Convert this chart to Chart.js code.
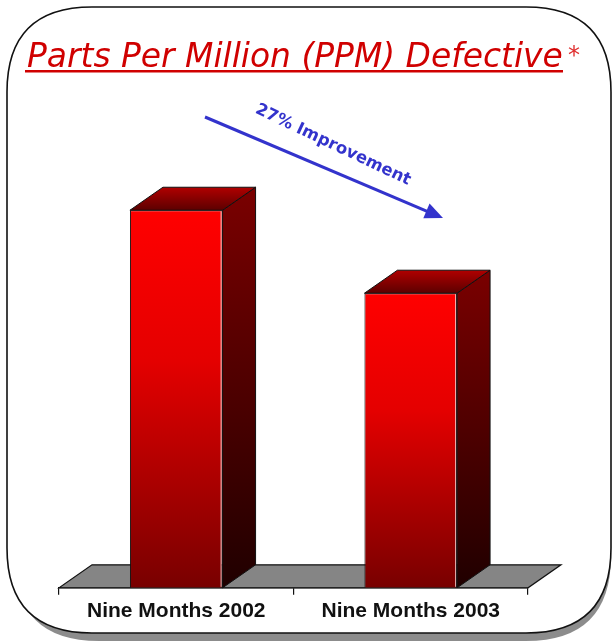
<!DOCTYPE html>
<html>
<head>
<meta charset="utf-8">
<title>Parts Per Million (PPM) Defective</title>
<script src="https://cdn.jsdelivr.net/npm/chart.js@4.4.1/dist/chart.umd.min.js"></script>
<style>
  html, body { margin: 0; padding: 0; background: #fff; }
  canvas { display: block; }
</style>
</head>
<body>
<canvas id="ppmChart" width="616" height="641"></canvas>
<script>
// PPM defective, relative scale (first nine months of each year)
const periods = ['Nine Months 2002', 'Nine Months 2003'];
const ppmValues = [94.2, 73.5];
const titleText = 'Parts Per Million (PPM) Defective';
const arrowNote = '27% Improvement';

// 3D offset for the bar tops, sides and the floor
const DEPTH_X = 33;
const DEPTH_Y = 23;

function roundRect(ctx, x, y, w, h, r) {
    ctx.beginPath();
    ctx.moveTo(x + r, y);
    ctx.lineTo(x + w - r, y);
    ctx.quadraticCurveTo(x + w, y, x + w, y + r);
    ctx.lineTo(x + w, y + h - r);
    ctx.quadraticCurveTo(x + w, y + h, x + w - r, y + h);
    ctx.lineTo(x + r, y + h);
    ctx.quadraticCurveTo(x, y + h, x, y + h - r);
    ctx.lineTo(x, y + r);
    ctx.quadraticCurveTo(x, y, x + r, y);
    ctx.closePath();
}

// rounded frame with a drop shadow behind the whole chart
const framePlugin = {
    id: 'frame',
    beforeDraw(chart) {
        const ctx = chart.ctx;
        ctx.save();
        ctx.fillStyle = '#ffffff';
        ctx.fillRect(0, 0, chart.width, chart.height);
        roundRect(ctx, 14, 14, 597, 627, 85);
        ctx.fillStyle = '#8c8c8c';
        ctx.fill();
        roundRect(ctx, 7, 7, 604, 626, 85);
        ctx.fillStyle = '#ffffff';
        ctx.fill();
        ctx.lineWidth = 1.6;
        ctx.strokeStyle = '#111';
        ctx.stroke();
        ctx.restore();
    }
};

// grey floor under the bars
const floorPlugin = {
    id: 'floor',
    beforeDatasetsDraw(chart) {
        const ctx = chart.ctx;
        const a = chart.chartArea;
        ctx.save();
        ctx.beginPath();
        ctx.moveTo(a.left, a.bottom);
        ctx.lineTo(a.right, a.bottom);
        ctx.lineTo(a.right + DEPTH_X, a.bottom - DEPTH_Y);
        ctx.lineTo(a.left + DEPTH_X, a.bottom - DEPTH_Y);
        ctx.closePath();
        ctx.fillStyle = '#858585';
        ctx.fill();
        ctx.lineWidth = 1.2;
        ctx.strokeStyle = '#111';
        ctx.stroke();
        ctx.restore();
    }
};

// top and side faces of every bar
const bar3dPlugin = {
    id: 'bar3d',
    afterDatasetsDraw(chart) {
        const ctx = chart.ctx;
        chart.getDatasetMeta(0).data.forEach(bar => {
            const p = bar.getProps(['x', 'y', 'base', 'width'], true);
            const l = p.x - p.width / 2;
            const r = p.x + p.width / 2;
            ctx.save();
            ctx.lineWidth = 1;
            ctx.strokeStyle = '#111';

            // side
            const side = ctx.createLinearGradient(0, p.y - DEPTH_Y, 0, p.base);
            side.addColorStop(0, '#7a0000');
            side.addColorStop(0.55, '#4a0000');
            side.addColorStop(1, '#200000');
            ctx.beginPath();
            ctx.moveTo(r, p.y);
            ctx.lineTo(r + DEPTH_X, p.y - DEPTH_Y);
            ctx.lineTo(r + DEPTH_X, p.base - DEPTH_Y);
            ctx.lineTo(r, p.base);
            ctx.closePath();
            ctx.fillStyle = side;
            ctx.fill();
            ctx.stroke();

            // top
            const top = ctx.createLinearGradient(0, p.y - DEPTH_Y, 0, p.y);
            top.addColorStop(0, '#b00000');
            top.addColorStop(1, '#5c0000');
            ctx.beginPath();
            ctx.moveTo(l, p.y);
            ctx.lineTo(l + DEPTH_X, p.y - DEPTH_Y);
            ctx.lineTo(r + DEPTH_X, p.y - DEPTH_Y);
            ctx.lineTo(r, p.y);
            ctx.closePath();
            ctx.fillStyle = top;
            ctx.fill();
            ctx.stroke();

            // light edge on the front face
            ctx.beginPath();
            ctx.moveTo(r - 1.5, p.y + 1);
            ctx.lineTo(r - 1.5, p.base - 1);
            ctx.strokeStyle = 'rgba(255,220,220,0.8)';
            ctx.stroke();
            ctx.restore();
        });
    }
};

// underlined title and the improvement arrow
const notesPlugin = {
    id: 'notes',
    afterDraw(chart) {
        const ctx = chart.ctx;
        ctx.save();

        // title, fitted to its underline
        const tLeft = 27, tRight = 563, tBase = 67;
        ctx.font = 'italic 26px "DejaVu Sans"';
        const size = 26 * (tRight - tLeft) / ctx.measureText(titleText).width;
        ctx.font = 'italic ' + size.toFixed(1) + 'px "DejaVu Sans"';
        ctx.fillStyle = '#d00000';
        ctx.textBaseline = 'alphabetic';
        ctx.fillText(titleText, tLeft, tBase);
        ctx.fillRect(tLeft - 2, tBase + 3, tRight - tLeft + 2, 2.5);
        ctx.font = '24px "DejaVu Sans"';
        ctx.fillStyle = '#e03030';
        ctx.fillText('*', 568, 63);

        // arrow
        const x0 = 205, y0 = 117, x1 = 443, y1 = 218;
        const ang = Math.atan2(y1 - y0, x1 - x0);
        ctx.strokeStyle = '#3333cc';
        ctx.fillStyle = '#3333cc';
        ctx.lineWidth = 3;
        ctx.beginPath();
        ctx.moveTo(x0, y0);
        ctx.lineTo(x1 - 14 * Math.cos(ang), y1 - 14 * Math.sin(ang));
        ctx.stroke();
        ctx.translate(x1, y1);
        ctx.rotate(ang);
        ctx.beginPath();
        ctx.moveTo(0, 0);
        ctx.lineTo(-18, -8);
        ctx.lineTo(-18, 8);
        ctx.closePath();
        ctx.fill();
        ctx.setTransform(1, 0, 0, 1, 0, 0);

        // note along the arrow
        ctx.translate(333, 145);
        ctx.rotate(ang + 0.04);
        ctx.font = 'bold 16.5px "DejaVu Sans"';
        ctx.textAlign = 'center';
        ctx.textBaseline = 'middle';
        ctx.fillText(arrowNote, 0, 0);
        ctx.restore();
    }
};

function frontGradient(context) {
    const chart = context.chart;
    const y = chart.scales.y;
    if (!y || !context.parsed) return '#ff0000';
    const yTop = y.getPixelForValue(context.parsed.y);
    const yBase = y.getPixelForValue(0);
    if (!isFinite(yTop) || !isFinite(yBase) || yTop === yBase) return '#ff0000';
    const g = chart.ctx.createLinearGradient(0, yTop, 0, yBase);
    g.addColorStop(0, '#ff0000');
    g.addColorStop(0.4, '#e40000');
    g.addColorStop(1, '#780000');
    return g;
}

new Chart(document.getElementById('ppmChart'), {
    type: 'bar',
    data: {
        labels: periods,
        datasets: [{
            label: 'PPM Defective',
            data: ppmValues,
            backgroundColor: frontGradient,
            borderColor: '#111',
            borderWidth: 1,
            categoryPercentage: 1,
            barPercentage: 0.395
        }]
    },
    options: {
        responsive: false,
        animation: false,
        devicePixelRatio: 1,
        layout: {
            padding: { left: 59, right: 88, top: 187, bottom: 13 }
        },
        plugins: {
            legend: { display: false },
            title: { display: false },
            tooltip: { enabled: false }
        },
        scales: {
            x: {
                offset: true,
                grid: {
                    offset: true,
                    drawOnChartArea: false,
                    drawTicks: true,
                    tickLength: 7,
                    color: '#111',
                    lineWidth: 1.2
                },
                border: { display: true, color: '#111', width: 1.2 },
                ticks: {
                    color: '#111',
                    padding: 4,
                    font: { family: '"Liberation Sans"', size: 21, weight: 'bold' }
                }
            },
            y: {
                display: false,
                min: 0,
                max: 100
            }
        }
    },
    plugins: [framePlugin, floorPlugin, bar3dPlugin, notesPlugin]
});
</script>
</body>
</html>
